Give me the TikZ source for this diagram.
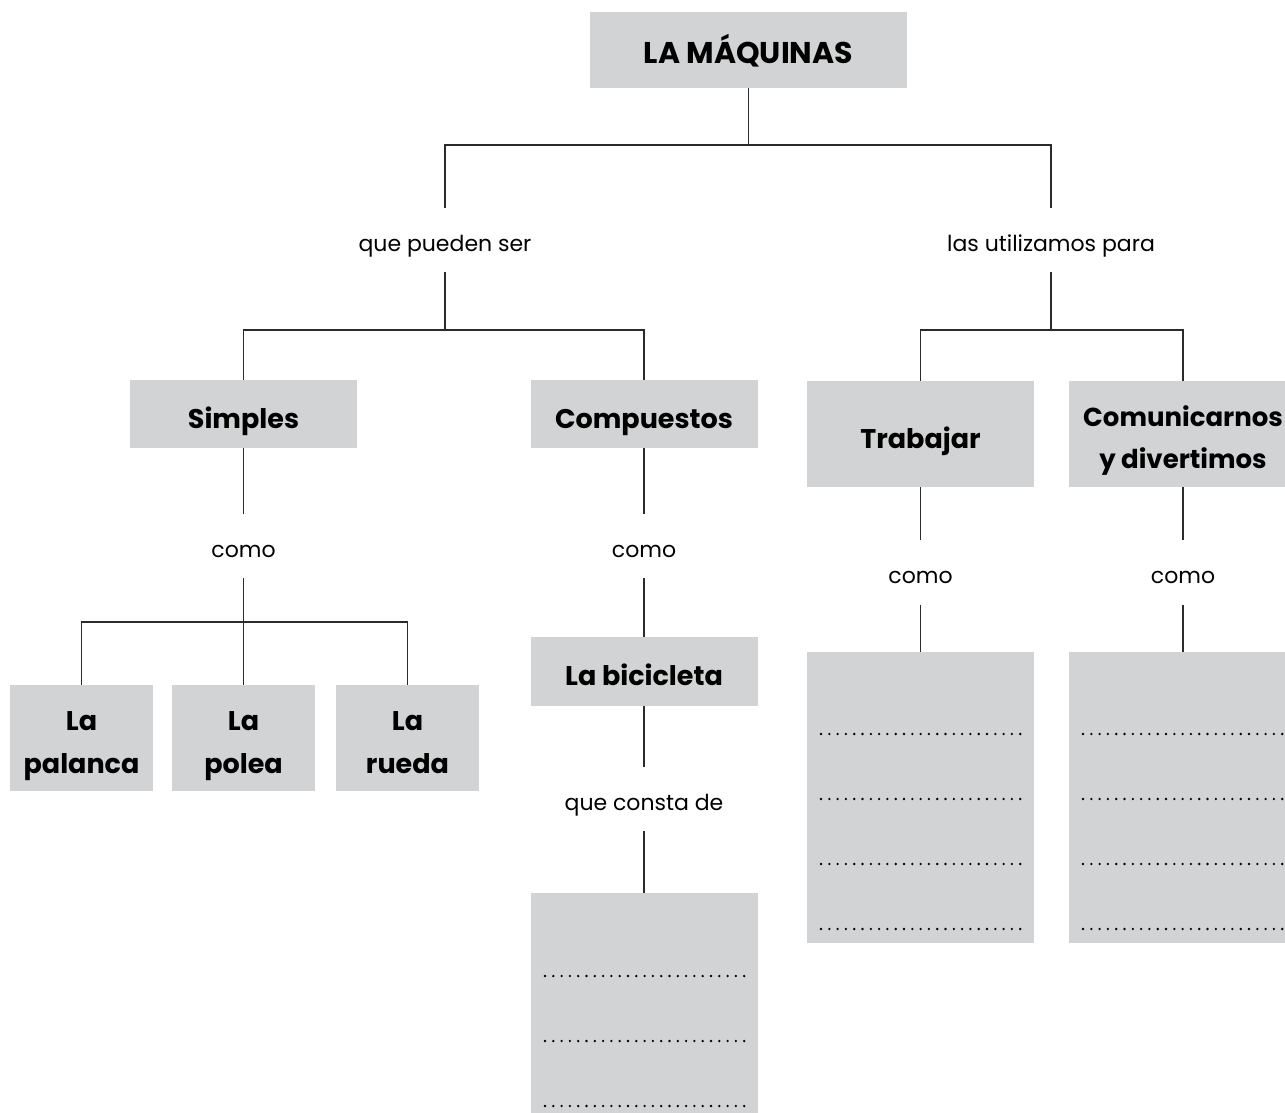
\documentclass[tikz,border=0pt]{standalone}
\usepackage{fontspec}
\setmainfont{Poppins}
\definecolor{boxgray}{HTML}{D1D3D4}
\definecolor{linegray}{HTML}{2B2B2B}
\begin{document}
\begin{tikzpicture}[x=1pt,y=-1pt,
  boxbase/.style={fill=boxgray, inner sep=0pt, font=\bfseries\fontsize{27}{42}\selectfont},
  box/.style={boxbase, text height=34pt, text depth=6pt},
  listbox/.style={fill=boxgray, inner sep=0pt},
  twotext/.style={inner sep=0pt, align=center, anchor=north, font=\bfseries\fontsize{27}{43}\selectfont},
  lbl/.style={inner sep=0pt, minimum height=64pt, text height=28pt, text depth=6pt, font=\fontsize{22}{26}\selectfont},
  conn/.style={draw=linegray, line width=1.4pt},
  dotrow/.style={fill=black}
]
\useasboundingbox (0,0) rectangle (1285,1113);
% boxes
\node[box, minimum width=317pt, minimum height=76pt, font=\bfseries\fontsize{30}{36}\selectfont] (title) at (748.5,50) {LA MÁQUINAS};
\node[lbl] (p1) at (445,240) {que pueden ser};
\node[lbl] (p2) at (1051,240) {las utilizamos para};
\node[box, minimum width=227pt, minimum height=68pt] (simples) at (243.5,414) {Simples};
\node[box, minimum width=227pt, minimum height=68pt] (comp) at (644,414) {Compuestos};
\node[box, minimum width=227pt, minimum height=106pt] (trab) at (920.5,434) {Trabajar};
\node[listbox, minimum width=228pt, minimum height=106pt] (com) at (1183,434) {};
\node[twotext, font=\bfseries\fontsize{26}{42}\selectfont] (com-t) at ([yshift=29pt]com.center) {\rule{0pt}{20pt}Comunicarnos\\y divertimos};
\node[lbl] (c1) at (243.5,546) {como};
\node[lbl] (c2) at (644,546) {como};
\node[lbl] (c3) at (920.5,572.5) {como};
\node[lbl] (c4) at (1183,572.5) {como};
\node[listbox, minimum width=143pt, minimum height=106pt] (palanca) at (81.5,738) {};
\node[listbox, minimum width=143pt, minimum height=106pt] (polea) at (243.5,738) {};
\node[listbox, minimum width=143pt, minimum height=106pt] (rueda) at (407.5,738) {};
\node[twotext] (palanca-t) at ([yshift=28pt]palanca.center) {\rule{0pt}{20pt}La\\palanca};
\node[twotext] (polea-t) at ([yshift=28pt]polea.center) {\rule{0pt}{20pt}La\\polea};
\node[twotext] (rueda-t) at ([yshift=28pt]rueda.center) {\rule{0pt}{20pt}La\\rueda};
\node[box, minimum width=227pt, minimum height=69pt] (bici) at (644,671.5) {La bicicleta};
\node[lbl] (consta) at (644,799) {que consta de};
\node[listbox, minimum width=227pt, minimum height=228pt] (lista1) at (644,1007) {};
\node[listbox, minimum width=227pt, minimum height=291pt] (lista2) at (920.5,797.5) {};
\node[listbox, minimum width=228pt, minimum height=291pt] (lista3) at (1183,797.5) {};
% junctions
\coordinate (j1) at (748.5,145);
\coordinate (j2) at (445,330);
\coordinate (j3) at (1051,330);
\coordinate (j4) at (243.5,622);
% connectors
\draw[conn] (title.south) -- (j1);
\draw[conn] (p1.north) |- (j1) -| (p2.north);
\draw[conn] (p1.south) -- (j2);
\draw[conn] (simples.north) |- (j2) -| (comp.north);
\draw[conn] (p2.south) -- (j3);
\draw[conn] (trab.north) |- (j3) -| (com.north);
\draw[conn] (simples.south) -- (c1.north);
\draw[conn] (c1.south) -- (polea.north);
\draw[conn] (palanca.north) |- (j4) -| (rueda.north);
\draw[conn] (comp.south) -- (c2.north);
\draw[conn] (c2.south) -- (bici.north);
\draw[conn] (bici.south) -- (consta.north);
\draw[conn] (consta.south) -- (lista1.north);
\draw[conn] (trab.south) -- (c3.north);
\draw[conn] (c3.south) -- (lista2.north);
\draw[conn] (com.south) -- (c4.north);
\draw[conn] (c4.south) -- (lista3.north);
% dotted answer lines
\foreach \y in {976,1041,1106} {\foreach \i in {0,...,24} \fill[dotrow] (545+\i*8.3,\y) circle (1.3pt);}
\foreach \y in {734,799,864,929} {\foreach \i in {0,...,24} \fill[dotrow] (821+\i*8.3,\y) circle (1.3pt);}
\foreach \y in {734,799,864,929} {\foreach \i in {0,...,25} \fill[dotrow] (1083+\i*8.3,\y) circle (1.3pt);}
\end{tikzpicture}
\end{document}
